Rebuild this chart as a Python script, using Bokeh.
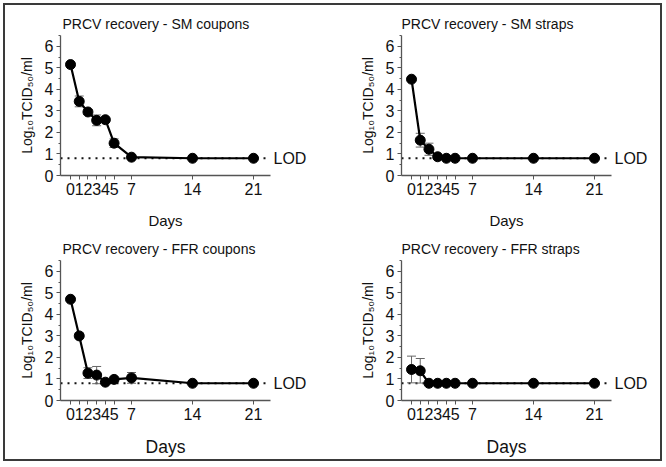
from bokeh.plotting import figure
from bokeh.layouts import column, row
from bokeh.models import (Range1d, FixedTicker, Span, Whisker, ColumnDataSource,
                          TeeHead, LinearAxis)
from bokeh.embed import file_html
from bokeh.resources import INLINE

# ---- data ----
days = [0, 1, 2, 3, 4, 5, 7, 14, 21]
lod = 0.8
lod_label = "LOD"

sm_coupons = [5.15, 3.44, 2.95, 2.56, 2.59, 1.50, 0.85, 0.80, 0.80]
sm_coupons_err = [0.0, 0.25, 0.12, 0.25, 0.08, 0.20, 0.05, 0.0, 0.0]

sm_straps = [4.47, 1.64, 1.22, 0.87, 0.80, 0.80, 0.80, 0.80, 0.80]
sm_straps_err = [0.0, 0.32, 0.28, 0.08, 0.0, 0.0, 0.0, 0.0, 0.0]

ffr_coupons = [4.70, 3.00, 1.27, 1.18, 0.85, 0.98, 1.05, 0.80, 0.80]
ffr_coupons_err = [0.0, 0.05, 0.25, 0.40, 0.05, 0.05, 0.25, 0.0, 0.0]

ffr_straps = [1.44, 1.38, 0.80, 0.80, 0.80, 0.80, 0.80, 0.80, 0.80]
ffr_straps_err = [0.62, 0.57, 0.0, 0.0, 0.0, 0.0, 0.0, 0.0, 0.0]

titles = ["PRCV recovery - SM coupons", "PRCV recovery - SM straps",
          "PRCV recovery - FFR coupons", "PRCV recovery - FFR straps"]
y_ticks = [0, 1, 2, 3, 4, 5, 6]
y_minor = [0.5, 1.5, 2.5, 3.5, 4.5, 5.5, 6.5]
y_label = "Log\u2081\u2080TCID\u2085\u2080/ml"
x_label = "Days"

FONT = "Liberation Sans"
AX = "#555555"
TXT = "#111111"


def panel(title, vals, errs, left, right, top, bottom, days_size, days_standoff,
          title_offset):
    p = figure(frame_width=210, frame_height=140,
               min_border_left=left, min_border_right=right,
               min_border_top=top, min_border_bottom=bottom,
               x_range=Range1d(-1.15, 22.95), y_range=Range1d(0, 6.5),
               output_backend="svg", toolbar_location=None, title=title)
    p.outline_line_color = None
    p.xgrid.visible = False
    p.ygrid.visible = False

    p.title.text_font = FONT
    p.title.text_font_size = "14px"
    p.title.text_font_style = "normal"
    p.title.text_color = TXT
    p.title.align = "left"
    p.title.offset = title_offset
    p.title.standoff = 8

    for ax in (p.xaxis[0], p.yaxis[0]):
        ax.axis_line_color = AX
        ax.axis_line_width = 1.3
        ax.major_tick_line_color = AX
        ax.minor_tick_line_color = AX
        ax.major_tick_in = 0
        ax.minor_tick_in = 0
        ax.major_label_text_font = FONT
        ax.major_label_text_font_size = "16px"
        ax.major_label_text_color = TXT
        ax.axis_label_text_font = FONT
        ax.axis_label_text_font_style = "normal"
        ax.axis_label_text_color = TXT

    p.xaxis.ticker = FixedTicker(ticks=days)
    p.xaxis.major_tick_out = 4
    p.xaxis.major_label_standoff = 3
    p.xaxis.axis_label = x_label
    p.xaxis.axis_label_text_font_size = days_size
    p.xaxis.axis_label_standoff = days_standoff

    p.yaxis.ticker = FixedTicker(ticks=y_ticks, minor_ticks=y_minor)
    p.yaxis.major_tick_out = 4
    p.yaxis.minor_tick_out = 2
    p.yaxis.major_label_standoff = 3
    p.yaxis.axis_label = y_label
    p.yaxis.axis_label_text_font_size = "14px"
    p.yaxis.axis_label_standoff = 7

    # right-hand axis carrying only the LOD label
    lod_axis = LinearAxis(ticker=FixedTicker(ticks=[lod]),
                          major_label_overrides={lod: lod_label})
    lod_axis.axis_line_color = None
    lod_axis.major_tick_line_color = None
    lod_axis.minor_tick_line_color = None
    lod_axis.major_tick_out = 0
    lod_axis.major_tick_in = 0
    lod_axis.major_label_standoff = 3
    lod_axis.major_label_text_font = FONT
    lod_axis.major_label_text_font_size = "16px"
    lod_axis.major_label_text_color = TXT
    p.add_layout(lod_axis, "right")

    span = Span(location=lod, dimension="width", line_color=TXT,
                line_dash="2 5", line_width=1.8, level="underlay")
    p.add_layout(span)

    ed = [d for d, e in zip(days, errs) if e > 0]
    ev = [v for v, e in zip(vals, errs) if e > 0]
    ee = [e for e in errs if e > 0]
    src = ColumnDataSource(dict(base=ed, upper=[v + e for v, e in zip(ev, ee)],
                                lower=[v - e for v, e in zip(ev, ee)]))
    w = Whisker(source=src, base="base", upper="upper", lower="lower",
                line_color="#666666", line_width=1, level="underlay",
                upper_head=TeeHead(size=9, line_color="#666666", line_width=1),
                lower_head=TeeHead(size=9, line_color="#666666", line_width=1))
    p.add_layout(w)

    p.line(days, vals, line_width=2.2, line_color="black")
    p.scatter(days, vals, size=10, fill_color="black", line_color="black")
    return p


p1 = panel(titles[0], sm_coupons, sm_coupons_err, 55, 63, 30, 57, "15px", 14, 2)
p2 = panel(titles[1], sm_straps, sm_straps_err, 68, 49, 30, 57, "15px", 14, 0)
p3 = panel(titles[2], ffr_coupons, ffr_coupons_err, 55, 63, 28, 58, "17.5px", 14, 2)
p4 = panel(titles[3], ffr_straps, ffr_straps_err, 68, 49, 28, 58, "17.5px", 14, 0)

layout = column(row(p1, p2), row(p3, p4),
                styles={"margin-left": "5px", "margin-top": "5px",
                        "outline": "2px solid #3a3a3a", "background": "white"})

open("out.html", "w").write(file_html(layout, INLINE))
